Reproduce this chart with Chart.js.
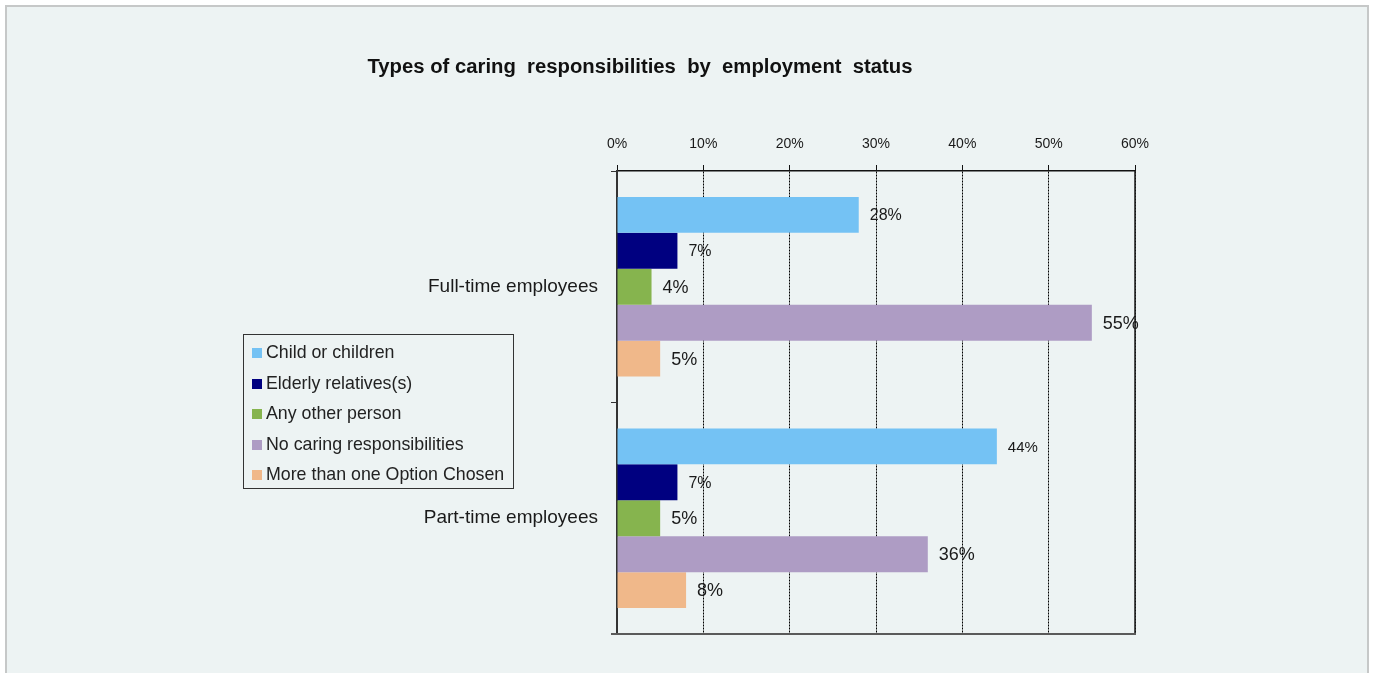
<!DOCTYPE html>
<html>
<head>
<meta charset="utf-8">
<script src="https://cdn.jsdelivr.net/npm/chart.js@4/dist/chart.umd.min.js"></script>
<style>
  html, body { margin: 0; padding: 0; background: #fff; }
  body { width: 1375px; height: 673px; position: relative; overflow: hidden; font-family: "Liberation Sans", Arial, sans-serif; }
  #frame { position: absolute; left: 5px; top: 5px; width: 1360px; height: 720px; background: #edf3f3; border: 2px solid #c6c8c8; }
  #chart { position: absolute; left: 0; top: 0; }
  #title { position: absolute; left: 640px; top: 54px; transform: translateX(-50%); font-weight: bold; font-size: 20.3px; line-height: 24px; color: #111; white-space: pre; }
  #legend { position: absolute; left: 243px; top: 334px; width: 271px; height: 155px; border: 1px solid #333; box-sizing: border-box; padding-top: 2px; }
  #legend .item { height: 30.5px; line-height: 30px; font-size: 17.8px; color: #222; white-space: nowrap; }
  #legend .sw { display: inline-block; width: 10px; height: 10px; margin: 0 4px 0 8px; vertical-align: 0px; }
</style>
</head>
<body>
<div id="frame"></div>
<canvas id="chart" width="1375" height="673"></canvas>
<div id="title">Types of caring  responsibilities  by  employment  status</div>
<div id="legend"></div>
<script>
// ── DATA ───────────────────────────────────────────────────────
const GROUPS   = ['Full-time employees', 'Part-time employees'];
const CHILD    = [28, 44];
const ELDERLY  = [7, 7];
const OTHER    = [4, 5];
const NONE     = [55, 36];
const MULTIPLE = [5, 8];
const X_MIN = 0, X_MAX = 60, X_STEP = 10;

// ── STYLE ──────────────────────────────────────────────────────
const SERIES = [
  { label: 'Child or children',           data: CHILD,    color: '#74c2f4' },
  { label: 'Elderly relatives(s)',        data: ELDERLY,  color: '#000080' },
  { label: 'Any other person',            data: OTHER,    color: '#86b44e' },
  { label: 'No caring responsibilities',  data: NONE,     color: '#ae9cc4' },
  { label: 'More than one Option Chosen', data: MULTIPLE, color: '#f0b88a' },
];
// value label font sizes, per series then per group
const LABEL_SIZES = [[16, 15], [16, 16], [18, 18], [18, 18], [18, 18]];
const TEXT = '#1a1a1a';
const FONT = '"Liberation Sans", Arial, sans-serif';

// value labels drawn just past the end of each bar
const valueLabels = {
  id: 'valueLabels',
  afterDatasetsDraw(chart) {
    const ctx = chart.ctx;
    ctx.save();
    ctx.fillStyle = TEXT;
    ctx.textAlign = 'left';
    ctx.textBaseline = 'middle';
    chart.data.datasets.forEach((ds, di) => {
      chart.getDatasetMeta(di).data.forEach((bar, i) => {
        ctx.font = `${LABEL_SIZES[di][i]}px ${FONT}`;
        ctx.fillText(ds.data[i] + '%', bar.x + 11, bar.y + 1);
      });
    });
    ctx.restore();
  },
};

// solid right edge and grey bottom edge of the plot
const plotFrame = {
  id: 'plotFrame',
  afterDraw(chart) {
    const { ctx, chartArea: a } = chart;
    ctx.save();
    ctx.lineWidth = 1.5;
    ctx.strokeStyle = '#1a1a1a';
    ctx.beginPath();
    ctx.moveTo(a.right, a.top);
    ctx.lineTo(a.right, a.bottom);
    ctx.stroke();
    ctx.strokeStyle = '#5a5a5a';
    ctx.lineWidth = 2;
    ctx.beginPath();
    ctx.moveTo(a.left - 6, a.bottom);
    ctx.lineTo(a.right + 1, a.bottom);
    ctx.stroke();
    ctx.restore();
  },
};

const chart = new Chart(document.getElementById('chart'), {
  type: 'bar',
  data: {
    labels: GROUPS,
    datasets: SERIES.map(s => ({
      label: s.label,
      data: s.data,
      backgroundColor: s.color,
      borderWidth: 0,
      categoryPercentage: 0.776,
      barPercentage: 1,
    })),
  },
  options: {
    indexAxis: 'y',
    responsive: false,
    animation: false,
    layout: { padding: { left: 400, top: 120, right: 240, bottom: 39 } },
    plugins: { legend: { display: false }, tooltip: { enabled: false } },
    scales: {
      x: {
        position: 'top',
        min: X_MIN, max: X_MAX,
        afterFit: s => { s.height = 51; },
        ticks: { stepSize: X_STEP, padding: 12, color: TEXT, font: { family: FONT, size: 14 }, callback: v => v + '%' },
        grid: { color: '#000', lineWidth: 1, tickLength: 6, tickColor: '#111', tickBorderDash: [] },
        border: { display: true, color: '#111', width: 1.5, dash: [2, 1] },
      },
      y: {
        afterFit: s => { s.width = 217; },
        ticks: { padding: 13, color: TEXT, font: { family: FONT, size: 19 } },
        grid: { offset: true, drawOnChartArea: false, tickLength: 6, color: '#333' },
        border: { display: true, color: '#333', width: 2 },
      },
    },
  },
  plugins: [valueLabels, plotFrame],
});

// legend built from the chart's own datasets
const legendEl = document.getElementById('legend');
chart.data.datasets.forEach(ds => {
  const row = document.createElement('div');
  row.className = 'item';
  const sw = document.createElement('span');
  sw.className = 'sw';
  sw.style.background = ds.backgroundColor;
  row.appendChild(sw);
  row.appendChild(document.createTextNode(ds.label));
  legendEl.appendChild(row);
});
</script>
</body>
</html>
